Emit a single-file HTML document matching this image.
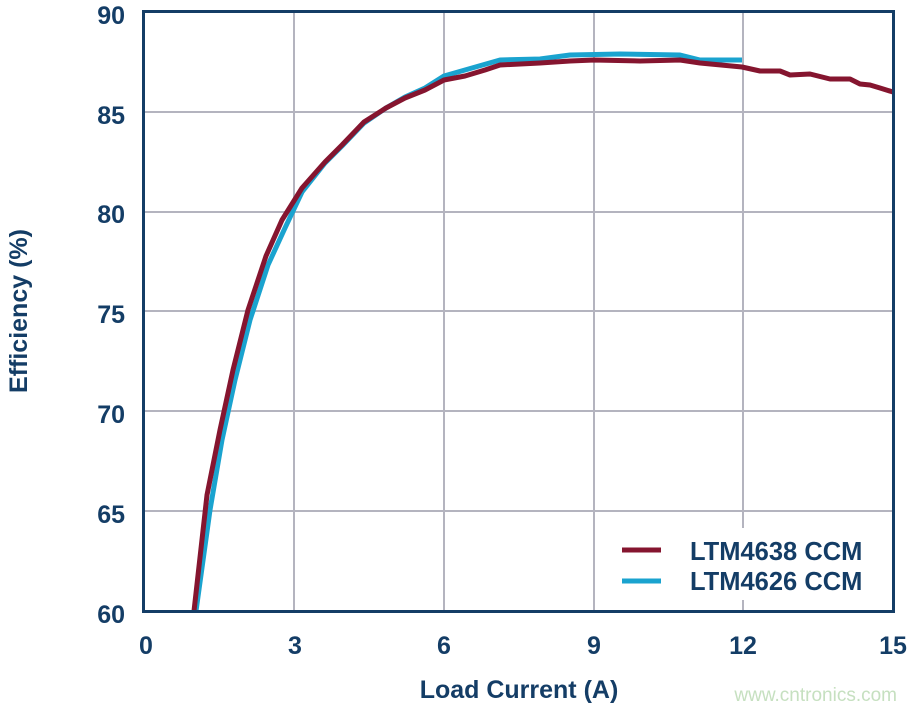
<!DOCTYPE html>
<html><head><meta charset="utf-8"><style>
body{margin:0;background:#fff;}
svg text{font-family:"Liberation Sans",sans-serif;font-weight:bold;fill:#143d66;}
</style></head><body>
<svg width="917" height="710" viewBox="0 0 917 710" xmlns="http://www.w3.org/2000/svg">
<rect width="917" height="710" fill="#fff"/>
<g stroke="#b4b4bf" stroke-width="2">
<line x1="294" y1="12" x2="294" y2="611"/><line x1="444" y1="12" x2="444" y2="611"/>
<line x1="594" y1="12" x2="594" y2="611"/><line x1="743" y1="12" x2="743" y2="611"/>
<line x1="144" y1="112" x2="893" y2="112"/><line x1="144" y1="212" x2="893" y2="212"/>
<line x1="144" y1="311" x2="893" y2="311"/><line x1="144" y1="411" x2="893" y2="411"/>
<line x1="144" y1="511" x2="893" y2="511"/>
</g>
<rect x="608" y="528" width="270" height="72" fill="#fff"/>
<polyline fill="none" stroke="#1aa3cf" stroke-width="5" stroke-linejoin="round" points="196,611 210,510 222,440 235,380 250,320 268,265 285,228 302,192 325,163 342,146 364,123 386,108 405,97 425,88 444,76 465,70 500,60 540,59 570,55 620,54 680,55 700,60 742,60"/>
<polyline fill="none" stroke="#85152f" stroke-width="5" stroke-linejoin="round" points="194,611 207,495 220,430 233,370 248,310 266,256 282,220 302,188 325,162 342,145 364,122 386,108 405,98 425,90 444,80 465,76 485,70 500,65 540,63 570,61 594,60 640,61 680,60 700,63 742,67 760,71 780,71 790,75 810,74 830,79 850,79 860,84 870,85 880,88 893,92"/>
<rect x="143.5" y="11.5" width="750" height="600" fill="none" stroke="#143d66" stroke-width="3"/>
<line x1="622" y1="550" x2="661" y2="550" stroke="#85152f" stroke-width="5"/>
<line x1="622" y1="581" x2="661" y2="581" stroke="#1aa3cf" stroke-width="5"/>
<g font-size="25.5">
<text x="690" y="560">LTM4638 CCM</text>
<text x="690" y="590">LTM4626 CCM</text>
</g>
<g font-size="25" text-anchor="end">
<text x="125" y="24">90</text><text x="125" y="124">85</text><text x="125" y="223">80</text>
<text x="125" y="323">75</text><text x="125" y="423">70</text><text x="125" y="523">65</text><text x="125" y="623">60</text>
</g>
<g font-size="25" text-anchor="middle">
<text x="146" y="654">0</text><text x="295" y="654">3</text><text x="444" y="654">6</text>
<text x="594" y="654">9</text><text x="743" y="654">12</text><text x="893" y="654">15</text>
<text x="519" y="698">Load Current (A)</text>
<text transform="translate(27,311) rotate(-90)">Efficiency (%)</text>
</g>
<text x="897" y="701" font-size="19" text-anchor="end" style="font-weight:normal;fill:#c6e0c0">www.cntronics.com</text>
</svg>
</body></html>
